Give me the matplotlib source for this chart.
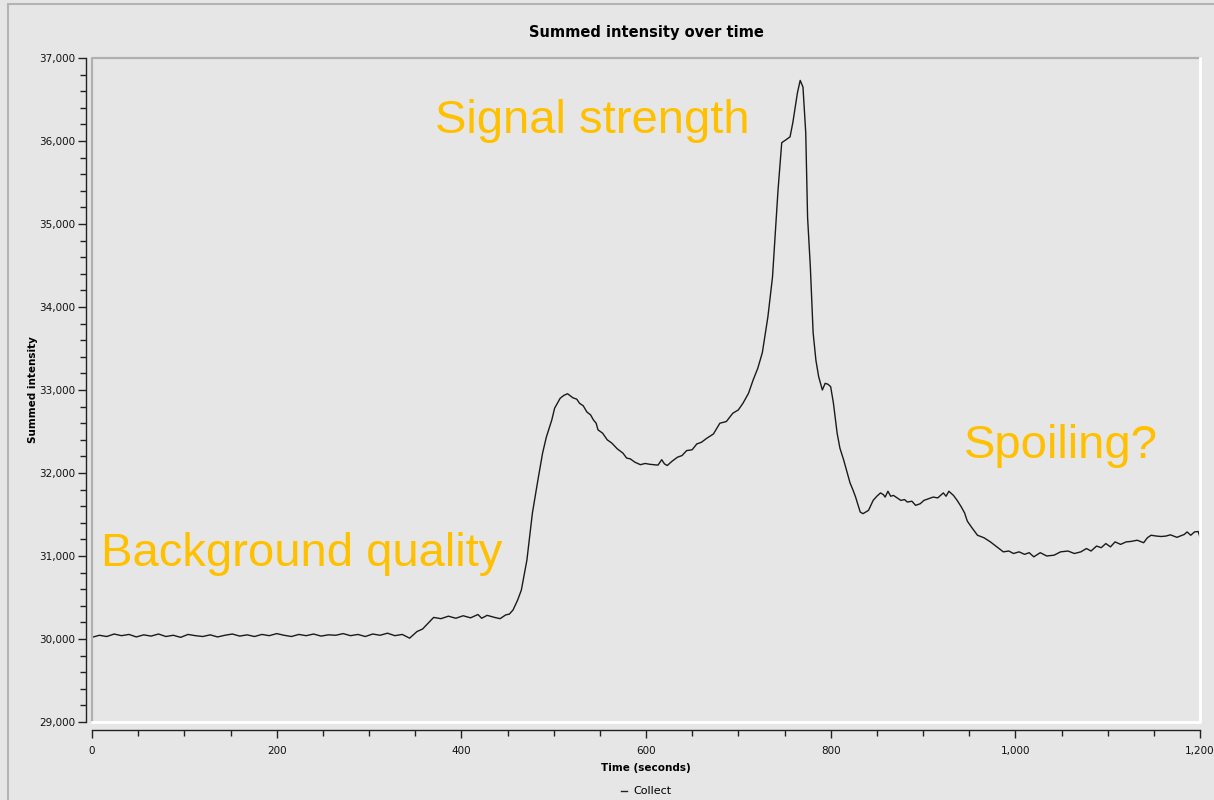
import matplotlib
matplotlib.use('Agg')
import matplotlib.pyplot as plt
from matplotlib.lines import Line2D
from matplotlib.patches import Rectangle
from matplotlib.ticker import FuncFormatter, MultipleLocator

# Summed intensity trace (seconds, counts)
time_s = [
    0, 8, 16, 24, 32, 40, 48, 56, 64, 72, 80, 88, 96, 104, 112, 120, 128, 136,
    144, 152, 160, 168, 176, 184, 192, 200, 208, 216, 224, 232, 240, 248, 256,
    264, 272, 280, 288, 296, 304, 312, 320, 328, 336,
    344, 352, 358, 364, 370, 378, 386, 394, 402, 410, 418, 422, 428, 436, 442,
    448, 452,
    456, 461, 465, 471, 477, 483, 488, 492, 498, 501, 507, 511, 515, 518, 521,
    525, 528, 532, 536, 540, 543, 546, 548, 553, 558, 563, 569, 575, 579, 583,
    588, 594, 599, 604, 608, 613, 617, 620, 623, 628, 634, 639, 644, 650, 655,
    660, 666, 673, 680, 687, 694, 700, 705, 711, 716, 721, 726, 732, 737, 740,
    743, 747, 751, 756, 759, 764, 767, 770, 773, 775, 778, 781, 784, 787, 791,
    794, 797, 800, 803, 807, 810, 814, 818, 821, 824, 827, 832, 835, 838, 841,
    846, 850, 854, 857, 859, 862, 865, 868, 872, 876, 880, 883, 888, 892, 897,
    901, 906, 911, 916, 920, 922, 925, 928, 933, 937, 941, 945, 948, 953, 959,
    966, 973, 980, 987, 993, 998, 1004, 1010, 1015, 1020, 1027, 1034, 1042,
    1049, 1057, 1064, 1071, 1077, 1082, 1088, 1093, 1098, 1103, 1108, 1114,
    1120, 1125, 1132, 1139, 1143, 1147, 1153, 1158, 1163, 1168, 1175, 1183,
    1186, 1190, 1194, 1198, 1200,
]
intensity = [
    30020, 30045, 30030, 30060, 30040, 30055, 30025, 30050, 30035, 30060,
    30030, 30045, 30020, 30055, 30040, 30030, 30050, 30025, 30045, 30060,
    30035, 30050, 30030, 30055, 30040, 30065, 30045, 30030, 30055, 30040,
    30060, 30035, 30050, 30045, 30065, 30040, 30055, 30030, 30060, 30045,
    30070, 30040, 30055,
    30010, 30090, 30120, 30190, 30260, 30245, 30275, 30250, 30280, 30255,
    30295, 30250, 30285, 30260, 30245, 30290, 30300,
    30350, 30470, 30590, 30950, 31520, 31920, 32240, 32430, 32640, 32780,
    32900, 32935, 32955, 32930, 32905, 32890, 32840, 32810, 32735, 32700,
    32640, 32600, 32520, 32480, 32400, 32360, 32290, 32240, 32180, 32170,
    32130, 32100, 32115, 32105, 32100, 32095, 32160, 32110, 32090, 32140,
    32190, 32210, 32270, 32280, 32350, 32370, 32420, 32470, 32600, 32620,
    32720, 32760, 32840, 32960, 33120, 33260, 33450, 33880, 34360, 34890,
    35410, 35980, 36010, 36050, 36220, 36580, 36730, 36650, 36100, 35080,
    34480, 33690, 33360, 33160, 33000, 33080, 33070, 33040, 32840, 32480,
    32300, 32160, 32000, 31880, 31800, 31710, 31530, 31510, 31530, 31550,
    31670, 31720, 31760, 31740, 31710, 31780, 31720, 31730, 31700, 31670,
    31680, 31650, 31660, 31610, 31630, 31670, 31690, 31710, 31700, 31740,
    31760, 31720, 31780, 31730, 31670, 31600, 31520, 31420, 31340, 31250,
    31220, 31170, 31110, 31050, 31060, 31030, 31050, 31020, 31040, 30990,
    31040, 31000, 31010, 31050, 31060, 31030, 31050, 31090, 31060, 31120,
    31100, 31150, 31110, 31170, 31140, 31170, 31175, 31190, 31160, 31220,
    31250, 31240, 31235, 31240, 31255, 31225, 31260, 31290, 31250, 31290,
    31295, 31230,
]

# (text, time, intensity, horizontal alignment)
annotations = [
    ('Signal strength', 542, 36240, 'center'),
    ('Background quality', 10, 31030, 'left'),
    ('Spoiling?', 1049, 32330, 'center'),
]

bg = '#e6e6e6'
fig = plt.figure(figsize=(12.14, 8.0), dpi=100, facecolor=bg)
ax = fig.add_axes([92 / 1214, 1 - 722 / 800, 1108 / 1214, 664 / 800], facecolor=bg)

# outer panel border
fig.add_artist(Rectangle((8 / 1214, -0.05), 1.2, 1.05 - 4 / 800, transform=fig.transFigure,
                         fill=False, edgecolor='#b4b4b4', linewidth=1.5))

ax.plot(time_s, intensity, color='#1a1a1a', linewidth=1.0)

ax.set_xlim(0, 1200)
ax.set_ylim(29000, 37000)

thousands = FuncFormatter(lambda v, _: f'{int(v):,}')
ax.xaxis.set_major_locator(MultipleLocator(200))
ax.xaxis.set_minor_locator(MultipleLocator(50))
ax.yaxis.set_major_locator(MultipleLocator(1000))
ax.yaxis.set_minor_locator(MultipleLocator(200))
ax.xaxis.set_major_formatter(thousands)
ax.yaxis.set_major_formatter(thousands)

for side in ('top', 'right'):
    ax.spines[side].set_visible(False)
ax.spines['bottom'].set_position(('outward', 6))
ax.spines['left'].set_position(('outward', 4))
for side in ('bottom', 'left'):
    ax.spines[side].set_color('#222222')
    ax.spines[side].set_linewidth(1.0)

ax.tick_params(axis='both', which='major', length=6, width=1.0, color='#222222',
               labelsize=7.5, labelcolor='#111111', pad=2)
ax.tick_params(axis='x', which='major', pad=5)
ax.tick_params(axis='both', which='minor', length=4, width=1.0, color='#222222')

# plot area bevel: grey top/left, white bottom/right
ax.plot([0, 0, 1], [0, 1, 1], transform=ax.transAxes, color='#b0b0b0', lw=1.6, clip_on=False)
ax.plot([0, 1, 1], [0, 0, 1], transform=ax.transAxes, color='white', lw=2.0, clip_on=False)

ax.set_title('Summed intensity over time', fontsize=10.5, fontweight='bold', pad=15)
ax.set_xlabel('Time (seconds)', fontsize=7.5, fontweight='bold', labelpad=5)
ax.set_ylabel('Summed intensity', fontsize=7.5, fontweight='bold', labelpad=1)

for text, x, y, ha in annotations:
    ax.text(x, y, text, color='#ffc000', fontsize=34, family='Liberation Sans',
            ha=ha, va='center')

handle = Line2D([], [], color='#222222', linewidth=1.0)
fig.legend([handle], ['Collect'], loc='lower center', bbox_to_anchor=(0.532, -0.008),
           frameon=False, fontsize=8, handlelength=0.6, handletextpad=0.5)

fig.savefig('out.png', dpi=100, facecolor=bg)
